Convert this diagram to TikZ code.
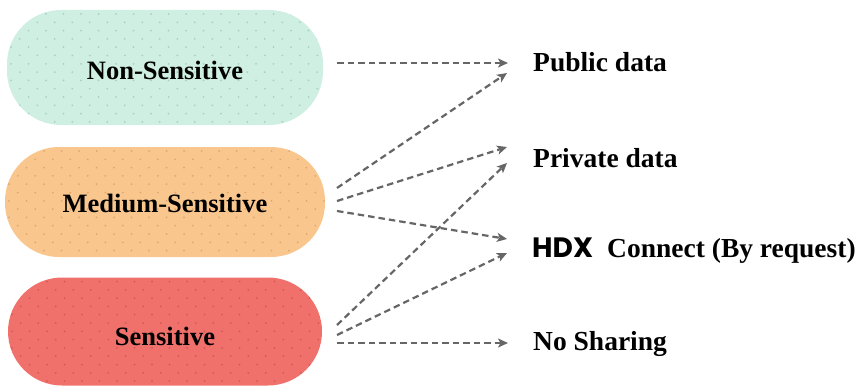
\documentclass[tikz,border=0pt]{standalone}
\usepackage{fontspec}
\setmainfont{Liberation Serif}
\newfontfamily\hdxfont{Poppins}
\usetikzlibrary{arrows.meta}
\definecolor{mintfill}{HTML}{CFEFE3}
\definecolor{mintdot}{HTML}{A9D0C2}
\definecolor{orangefill}{HTML}{F9C78E}
\definecolor{orangedot}{HTML}{E0A672}
\definecolor{redfill}{HTML}{F0716B}
\definecolor{reddot}{HTML}{D45853}
\definecolor{flowgray}{HTML}{666666}
\tikzset{
  pill/.style n args={2}{
    fill=#1, draw=none, rectangle, rounded corners=54pt,
    path picture={
      \foreach \r in {0,...,14}{
        \foreach \c in {0,...,19}{
          \pgfmathsetmacro{\dx}{\c*17.5+mod(\r,2)*8.75+4}
          \pgfmathsetmacro{\dy}{\r*8.3+4}
          \fill[#2] ([shift={(\dx,\dy)}]path picture bounding box.north west) circle (1pt);
        }
      }
    }
  },
  pilltext/.style={font=\bfseries\fontsize{26.5}{30}\selectfont, anchor=base, inner sep=0pt},
  outtext/.style={font=\bfseries\fontsize{27.5}{31}\selectfont, anchor=base west, inner sep=0pt},
  flow/.style={draw=flowgray, line width=2.2pt, dash pattern=on 6.5pt off 4pt,
    -{Stealth[length=10pt,width=9pt,inset=2.5pt]}},
}
\begin{document}
\begin{tikzpicture}[x=1pt,y=-1pt]
\useasboundingbox (0,0) rectangle (866,385);

% sensitivity categories
\node[pill={mintfill}{mintdot}, minimum width=316pt, minimum height=115pt] (nons) at (165,67.5) {};
\node[pill={orangefill}{orangedot}, minimum width=320pt, minimum height=110pt] (med) at (165,202) {};
\node[pill={redfill}{reddot}, minimum width=314pt, minimum height=108pt] (sens) at (165,331.5) {};

\node[pilltext] (nonsT) at (165,80) {Non-Sensitive};
\node[pilltext] (medT) at (165,212) {Medium-Sensitive};
\node[pilltext] (sensT) at (165,345) {Sensitive};

% sharing options
\node[outtext] (pub) at (533,72) {Public data};
\node[outtext] (priv) at (533,167) {Private data};
\node[anchor=base west, inner sep=0pt, font=\hdxfont\bfseries\fontsize{28}{32}\selectfont] (hdx) at (532,257) {HDX};
\node[outtext] (conn) at (607,257) {Connect (By request)};
\node[outtext] (nosh) at (533,350) {No Sharing};

% connector end points
\coordinate (s1) at (337,63);
\coordinate (s2) at (337,188);
\coordinate (s3) at (337,201);
\coordinate (s4) at (337,211);
\coordinate (s5) at (337,325);
\coordinate (s6) at (337,335);
\coordinate (s7) at (337,343);
\coordinate (e1) at (508,63);
\coordinate (e2) at (507,73);
\coordinate (e3) at (507,147);
\coordinate (e4) at (507,239);
\coordinate (e5) at (507,163);
\coordinate (e6) at (507,253);
\coordinate (e7) at (508,343);

\draw[flow] (s1) -- (e1);
\draw[flow] (s2) -- (e2);
\draw[flow] (s3) -- (e3);
\draw[flow] (s4) -- (e4);
\draw[flow] (s5) -- (e5);
\draw[flow] (s6) -- (e6);
\draw[flow] (s7) -- (e7);
\end{tikzpicture}
\end{document}
